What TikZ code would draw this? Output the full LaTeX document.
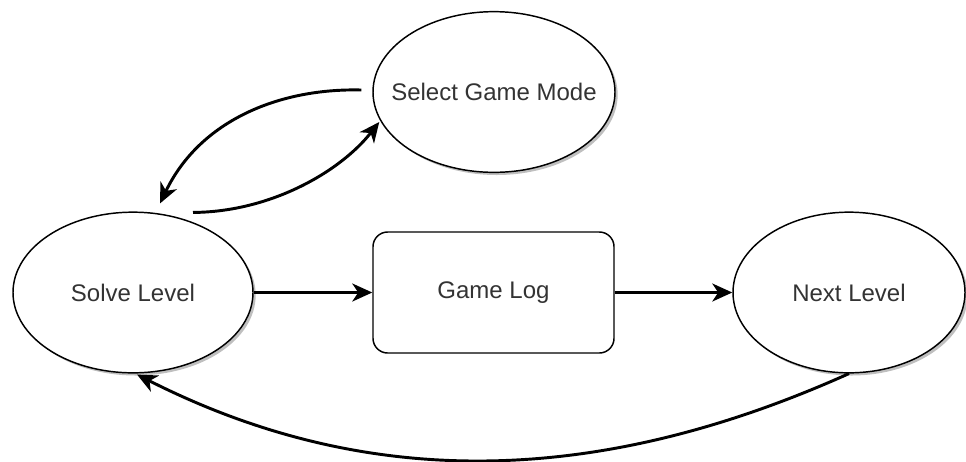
\documentclass[tikz,border=0pt]{standalone}
\usepackage{fontspec}
\setmainfont{Liberation Sans}
\usetikzlibrary{shapes.geometric,arrows.meta,shadows}
\newcommand{\zerowidth}[1]{\makebox[0pt]{#1}}
\begin{document}
\begin{tikzpicture}[x=0.75pt,y=-0.75pt,
  label text/.style={font=\fontsize{18}{21}\selectfont, text=black!80},
  state/.style={ellipse, draw, line width=1.1pt, fill=white, inner sep=0pt,
    minimum width=180pt, minimum height=120.5pt, label text,
    drop shadow={shadow xshift=2pt, shadow yshift=-2pt, opacity=0.25, fill=black}},
  logbox/.style={rectangle, rounded corners=11pt, draw, line width=1.1pt, fill=white,
    inner sep=0pt, minimum width=180.75pt, minimum height=90.75pt, label text},
  flow/.style={-{Stealth[length=15pt,width=13.5pt,inset=4.5pt]}, line width=2.2pt}]
\useasboundingbox (0,0) rectangle (966,461);

% states and the log box (text boxes kept flat so the ellipse size is fixed)
\node[state, minimum width=181.5pt] (mode) at (494,92) {\zerowidth{Select Game Mode}};
\node[state] (solve) at (133,292.5) {\zerowidth{Solve Level}};
\node[logbox] (log) at (493.5,292.5) {Game Log};
\node[state, minimum width=174pt] (next) at (849,292.5) {\zerowidth{Next Level}};

% main flow
\draw[flow] (solve.east) -- (log.west);
\draw[flow] (log.east) -- (next.west);

% switching between game mode selection and solving
\draw[flow] ([shift={(-11,-2)}]mode.west) .. controls (280,88) and (200,120) .. ([shift={(27,-8)}]solve.north);
\draw[flow] ([shift={(60,1)}]solve.north) .. controls (270,212) and (340,172) .. ([shift={(7,30)}]mode.west);

% back to solving the next level
\draw[flow] (next.south) .. controls (592,489) and (363,489) .. ([shift={(4,1)}]solve.south);
\end{tikzpicture}
\end{document}
